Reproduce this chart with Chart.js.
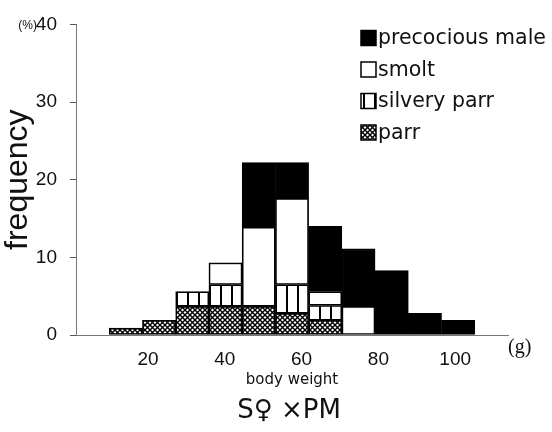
<!DOCTYPE html>
<html>
<head>
<meta charset="utf-8">
<script src="https://cdn.jsdelivr.net/npm/chart.js@4.4.0/dist/chart.umd.min.js"></script>
<style>
    html, body { margin: 0; padding: 0; background: #fff; }
    #wrap { width: 552px; height: 432px; }
</style>
</head>
<body>
<div id="wrap"><canvas id="bwchart" width="552" height="432"></canvas></div>
<script>
// weight classes (empty slot at each end so the bars sit like the original)
var weightBins = ['', '14', '23', '31', '40', '49', '58', '66', '75', '84', '92', '101', ''];

// frequency (%) per class, stacked bottom to top
var parr       = [null, 0.9, 1.9, 3.7, 3.7, 3.7, 2.8, 1.9, null, null, null, null, null];
var silveryParr = [null, null, null, 1.9, 2.8, null, 3.7, 1.9, null, null, null, null, null];
var smolt      = [null, null, null, null, 2.8, 10.2, 11.1, 1.8, 3.7, null, null, null, null];
var precocious = [null, null, null, null, null, 8.3, 4.6, 8.4, 7.4, 8.3, 2.8, 1.9, null];

var xTicks = [20, 40, 60, 80, 100];
var yTicks = [0, 10, 20, 30, 40];


function makePattern(kind) {
    var c = document.createElement('canvas');
    var g = c.getContext('2d');
    if (kind === 'cross') {
        c.width = 5; c.height = 5;
        g.fillStyle = '#fff';
        g.fillRect(0, 0, 5, 5);
        g.strokeStyle = '#000';
        g.lineWidth = 1.4;
        g.beginPath();
        g.moveTo(0, 0); g.lineTo(5, 5);
        g.moveTo(5, 0); g.lineTo(0, 5);
        g.stroke();
    } else {
        c.width = 11; c.height = 4;
        g.fillStyle = '#fff';
        g.fillRect(0, 0, 11, 4);
        g.fillStyle = '#000';
        g.fillRect(0, 0, 2, 4);
    }
    return g.createPattern(c, 'repeat');
}

var crossFill = makePattern('cross');
var stripeFill = makePattern('stripe');


// legend + loose texts of the figure
const extraText = {
    id: 'extraText',
    afterDraw(chart) {
        const { ctx, chartArea: { left, right, bottom } } = chart;
        const yScale = chart.scales.y;
        ctx.save();
        ctx.fillStyle = '#111';

        ctx.font = '12px "Liberation Sans"';
        ctx.textAlign = 'right';
        ctx.textBaseline = 'middle';
        ctx.fillText('(%)', 37, yScale.getPixelForValue(40) + 1);

        ctx.font = '20px "Liberation Serif"';
        ctx.textAlign = 'left';
        ctx.fillText('(g)', right, bottom + 13);

        ctx.font = '26px "DejaVu Sans"';
        ctx.textAlign = 'center';
        ctx.fillText('S\u2640 \u00d7PM', 289, 411);

        // legend, top series first
        var sets = chart.data.datasets.slice().reverse();
        ctx.font = '20.5px "DejaVu Sans"';
        ctx.textAlign = 'left';
        sets.forEach(function (ds, i) {
            var y = 38 + i * 31.5;
            ctx.fillStyle = ds.backgroundColor;
            ctx.fillRect(361, y - 7.5, 15, 15);
            ctx.strokeStyle = '#000';
            ctx.lineWidth = 1.5;
            ctx.strokeRect(361, y - 7.5, 15, 15);
            ctx.fillStyle = '#111';
            ctx.fillText(ds.label, 378, y + 1);
        });
        ctx.restore();
    }
};


var ctx = document.getElementById('bwchart');
var bwChart = new Chart(ctx, {
    type: 'bar',
    data: {
        labels: weightBins,
        datasets: [{
            label: 'parr',
            data: parr,
            backgroundColor: crossFill,
        },
        {
            label: 'silvery parr',
            data: silveryParr,
            backgroundColor: stripeFill,
        },
        {
            label: 'smolt',
            data: smolt,
            backgroundColor: '#fff',
        },
        {
            label: 'precocious male',
            data: precocious,
            backgroundColor: '#000',
        },
        ]
    },
    options: {
        responsive: false,
        animation: false,
        layout: {
            padding: { left: 0, right: 44, top: 20, bottom: 0 }
        },
        datasets: {
            bar: {
                borderColor: '#000',
                borderWidth: 1.7,
                borderSkipped: false,
                barPercentage: 1,
                categoryPercentage: 1,
            }
        },
        scales: {
            x: {
                stacked: true,
                display: false,
            },
            x2: {
                type: 'linear',
                position: 'bottom',
                offset: false,
                min: 1.25,
                max: 113.75,
                afterBuildTicks: function (scale) {
                    scale.ticks = xTicks.map(function (v) { return { value: v }; });
                },
                afterFit: function (scale) {
                    scale.height = 97;
                },
                grid: { display: false, drawTicks: false },
                border: { display: true, color: '#777', width: 1, dash: [1, 1] },
                ticks: {
                    padding: 13,
                    color: '#111',
                    font: { family: '"Liberation Sans"', size: 19 },
                    maxRotation: 0,
                },
                title: {
                    display: true,
                    text: 'body weight',
                    color: '#111',
                    font: { family: '"DejaVu Sans"', size: 15 },
                    padding: { top: 0, bottom: 43 },
                }
            },
            y: {
                stacked: true,
                min: 0,
                max: 40,
                afterBuildTicks: function (scale) {
                    scale.ticks = yTicks.map(function (v) { return { value: v }; });
                },
                afterFit: function (scale) {
                    scale.width = 76;
                },
                grid: {
                    drawOnChartArea: false,
                    drawTicks: true,
                    tickLength: 6,
                    color: '#555',
                },
                border: { display: true, color: '#777', width: 1, dash: [1, 1] },
                ticks: {
                    padding: 13,
                    color: '#111',
                    font: { family: '"Liberation Sans"', size: 19 },
                },
                title: {
                    display: true,
                    text: 'frequency',
                    color: '#111',
                    font: { family: '"Liberation Sans"', size: 32 },
                    padding: { top: -1, bottom: 0 },
                }
            }
        },
        plugins: {
            legend: { display: false },
            tooltip: { enabled: false },
        }
    },
    plugins: [extraText]
});
</script>
</body>
</html>
